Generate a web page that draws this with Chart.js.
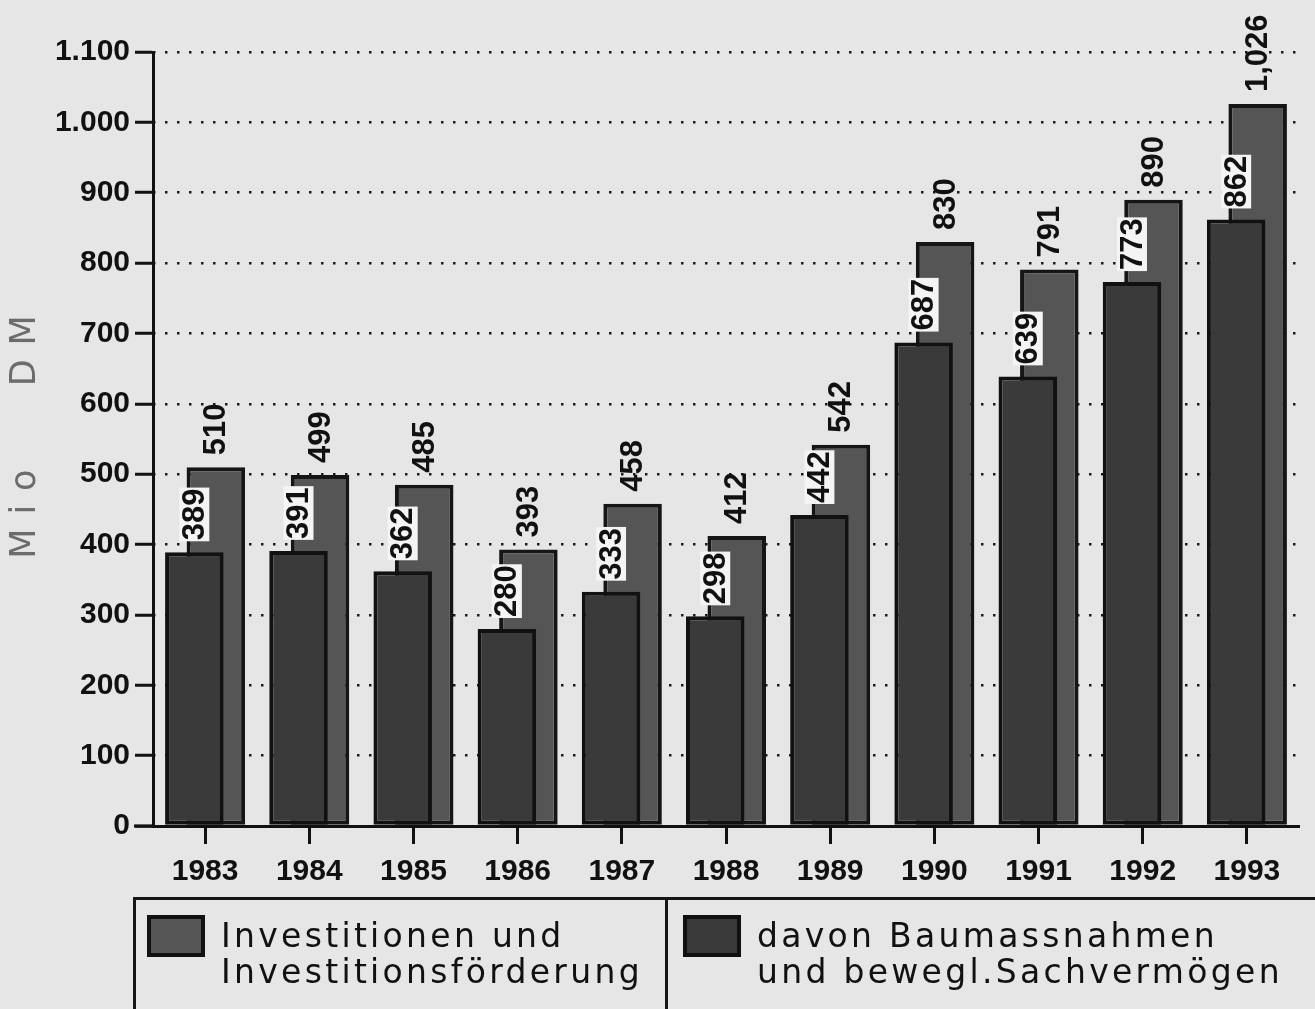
<!DOCTYPE html>
<html>
<head>
<meta charset="utf-8">
<script src="https://cdn.jsdelivr.net/npm/chart.js@4.4.1/dist/chart.umd.min.js"></script>
<style>
  html, body { margin:0; padding:0; background:#e6e6e6; }
  #wrap { position:relative; width:1315px; height:1009px; overflow:hidden; background:#e6e6e6; }
  #c { position:absolute; left:0; top:0; }
  #ytitle { position:absolute; left:-127px; top:417px; width:300px; height:40px; line-height:40px;
            text-align:center; transform:rotate(-90deg); font-family:"DejaVu Sans"; font-size:35px;
            color:#6c6c6c; letter-spacing:14px; word-spacing:44px; padding-left:14px; box-sizing:border-box; }
  #legend { position:absolute; left:133px; top:897px; width:1210px; height:130px; border:3px solid #151515;
            box-sizing:border-box; }
  #divider { position:absolute; left:665px; top:897px; width:3px; height:130px; background:#151515; }
  .sw { position:absolute; width:58px; height:42px; border:4px solid #111; box-sizing:border-box; }
  .lt { position:absolute; font-family:"DejaVu Sans"; font-size:33px; line-height:36px; letter-spacing:3.3px;
        color:#111; white-space:nowrap; }
</style>
</head>
<body>
<div id="wrap">
  <canvas id="c" width="1315" height="1009"></canvas>
  <div id="ytitle">Mio DM</div>
  <div id="legend"></div>
  <div id="divider"></div>
  <div class="sw" id="sw1" style="left:147px;top:915px;background:#555555;"></div>
  <div class="lt" id="lt1" style="left:221px;top:918px;"></div>
  <div class="sw" id="sw2" style="left:683px;top:915px;background:#3a3a3a;"></div>
  <div class="lt" id="lt2" style="left:757px;top:918px;"></div>
</div>
<script>
// ---- data ----
const years = ['1983','1984','1985','1986','1987','1988','1989','1990','1991','1992','1993'];
const investitionen = [510, 499, 485, 393, 458, 412, 542, 830, 791, 890, 1026];
const baumassnahmen = [389, 391, 362, 280, 333, 298, 442, 687, 639, 773, 862];
const yTickValues = [0, 100, 200, 300, 400, 500, 600, 700, 800, 900, 1000, 1100];
const seriesNames = ['Investitionen und\nInvestitionsförderung', 'davon Baumassnahmen\nund bewegl.Sachvermögen'];

// legend text
document.getElementById('lt1').innerText = seriesNames[0];
document.getElementById('lt2').innerText = seriesNames[1];

function groupSep(v, sep) {
  const s = String(Math.round(v));
  return s.replace(/\B(?=(\d{3})+(?!\d))/g, sep);
}

const labelPlugin = {
  id: 'barLabels',
  afterDatasetsDraw(chart) {
    const ctx = chart.ctx;
    ctx.save();
    ctx.font = 'bold 31px "Liberation Sans"';
    ctx.textBaseline = 'middle';
    ctx.textAlign = 'left';
    // back series first (dataset 1), then front series with light box
    [1, 0].forEach(di => {
      const meta = chart.getDatasetMeta(di);
      const vals = chart.data.datasets[di].data;
      meta.data.forEach((el, i) => {
        const txt = groupSep(vals[i], ',');
        const w = ctx.measureText(txt).width;
        const x = el.x, y = el.y - 12;
        ctx.save();
        ctx.translate(x, y);
        ctx.rotate(-Math.PI / 2);
        if (di === 0) {
          ctx.fillStyle = '#f4f4f4';
          ctx.fillRect(-1, -15, w + 2, 30);
        }
        ctx.fillStyle = '#111';
        ctx.fillText(txt, 0, 1);
        ctx.restore();
      });
    });
    // small extension of the x axis line to the left
    const a = chart.chartArea;
    ctx.strokeStyle = '#111';
    ctx.lineWidth = 3;
    ctx.beginPath();
    ctx.moveTo(134, a.bottom);
    ctx.lineTo(a.left, a.bottom);
    ctx.stroke();
    ctx.restore();
  }
};

Chart.defaults.font.family = '"Liberation Sans"';

new Chart(document.getElementById('c'), {
  type: 'bar',
  data: {
    labels: years,
    datasets: [
      {
        label: seriesNames[1],
        data: baumassnahmen,
        backgroundColor: '#3a3a3a',
        borderColor: '#111',
        borderWidth: 4,
        borderSkipped: false,
        categoryPercentage: 0.413,
        barPercentage: 2.72
      },
      {
        label: seriesNames[0],
        data: investitionen,
        backgroundColor: '#555555',
        borderColor: '#151515',
        borderWidth: 4,
        borderSkipped: false,
        categoryPercentage: 0.413,
        barPercentage: 2.72
      }
    ]
  },
  options: {
    responsive: false,
    animation: false,
    devicePixelRatio: 1,
    layout: { padding: { top: 52, right: 16, left: 0, bottom: 0 } },
    plugins: { legend: { display: false }, tooltip: { enabled: false } },
    scales: {
      x: {
        offset: true,
        grid: { display: true, drawOnChartArea: false, tickLength: 18, tickWidth: 3, tickColor: '#111', offset: false },
        border: { display: true, color: '#111', width: 3 },
        ticks: { color: '#111', font: { size: 30, weight: 'bold' }, padding: 10, maxRotation: 0 },
        afterFit(scale) { scale.height = 183; }
      },
      y: {
        min: 0, max: 1100,
        afterBuildTicks(scale) { scale.ticks = yTickValues.map(v => ({ value: v })); },
        grid: {
          color: '#1a1a1a', lineWidth: 2.5,
          tickLength: 18, tickWidth: 3, tickColor: '#111', tickBorderDash: [],
          drawTicks: true
        },
        border: { display: true, color: '#111', width: 3, dash: [2.5, 9.5], dashOffset: -10 },
        ticks: { color: '#111', font: { size: 30, weight: 'bold' }, padding: 5,
                 callback: v => groupSep(v, '.') },
        afterFit(scale) { scale.width = 153; }
      }
    }
  },
  plugins: [labelPlugin]
});
</script>
</body>
</html>
